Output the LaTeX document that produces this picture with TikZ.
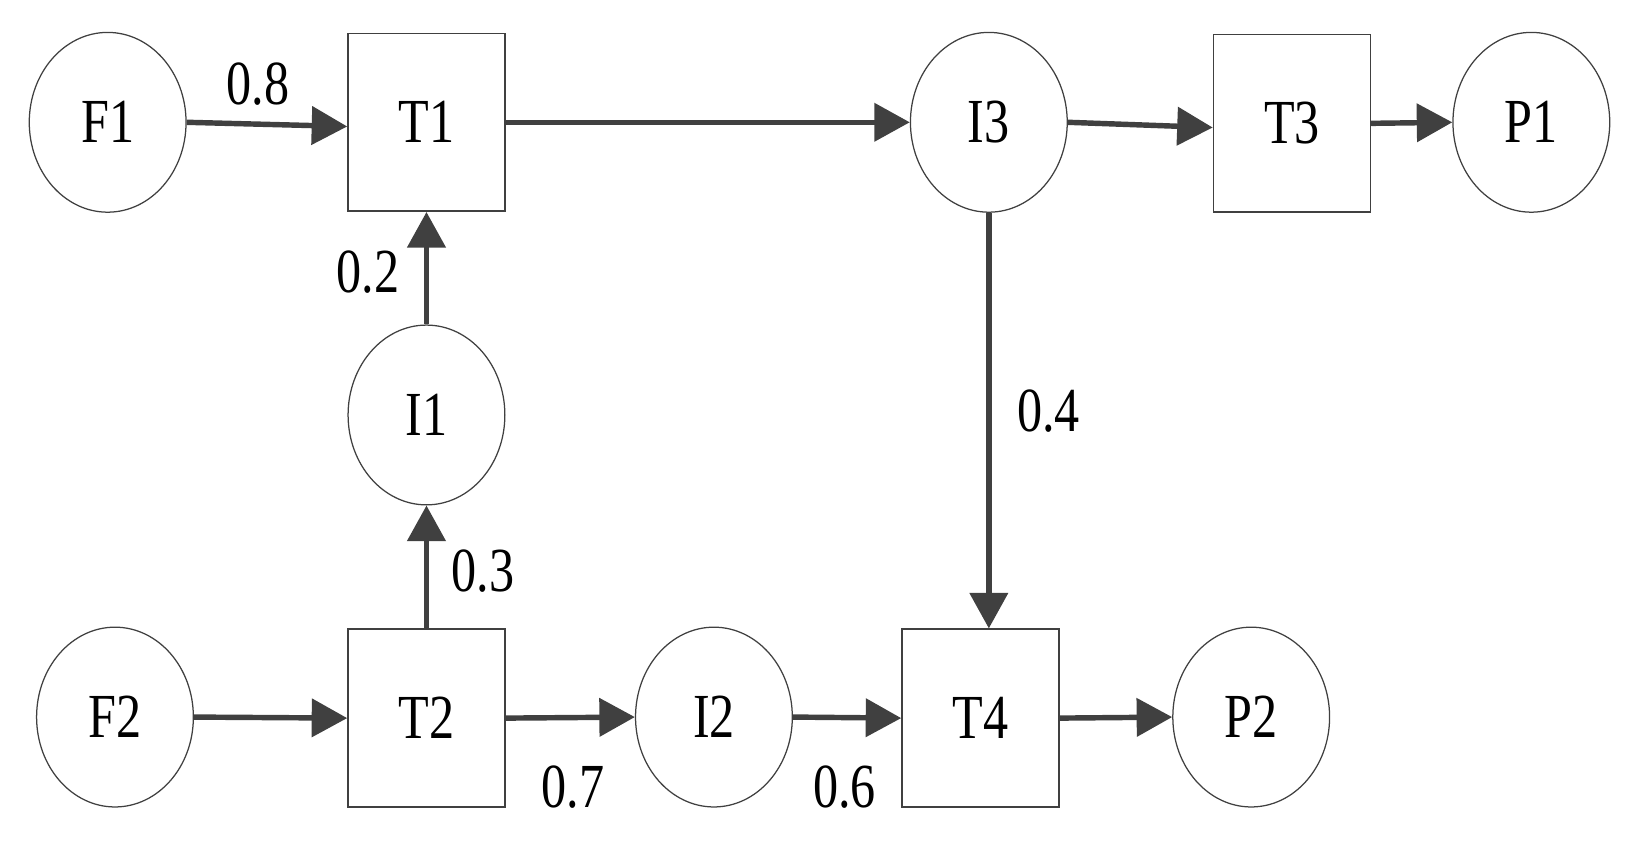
\documentclass[tikz,border=0pt]{standalone}
\usepackage{fontspec}
\setmainfont{Liberation Serif}[FakeStretch=0.8]
\usetikzlibrary{shapes.geometric,arrows.meta}
\definecolor{lc}{HTML}{404040}
\begin{document}
\begin{tikzpicture}[x=0.5pt,y=-0.5pt,
  txt/.style={font=\fontsize{30}{30}\selectfont},
  place/.style={ellipse,draw=lc,line width=0.6pt,minimum width=75pt,minimum height=86pt,inner sep=0pt,txt},
  trans/.style={rectangle,draw=lc,line width=0.8pt,minimum width=75pt,minimum height=85pt,inner sep=0pt,txt},
  arc/.style={draw=lc,line width=2.6pt,-{Triangle[length=17pt,width=18pt]}},
  lbl/.style={inner sep=0pt,txt}
]
\useasboundingbox (0,0) rectangle (1568,807.4);
% nodes
\node[place] (F1) at (103,117) {F1};
\node[trans] (T1) at (408,117) {T1};
\node[place] (I3) at (946,117) {I3};
\node[trans] (T3) at (1236,118) {T3};
\node[place] (P1) at (1465,117) {P1};
\node[place] (I1) at (408,397) {I1};
\node[place] (F2) at (110,686) {F2};
\node[trans] (T2) at (408,687) {T2};
\node[place] (I2) at (683,686) {I2};
\node[trans] (T4) at (938,687) {T4};
\node[place] (P2) at (1197,686) {P2};
% labels
\node[lbl] (l08) at (247,80) {0.8};
\node[lbl] (l02) at (352,260) {0.2};
\node[lbl] (l03) at (462,546) {0.3};
\node[lbl] (l04) at (1003,393) {0.4};
\node[lbl] (l07) at (548,753) {0.7};
\node[lbl] (l06) at (808,753) {0.6};
% arcs
\draw[arc] (F1.east) -- ([yshift=-2pt]T1.west);
\draw[arc] (T1.east) -- (I3.west);
\draw[arc] (I3.east) -- ([yshift=-2pt]T3.west);
\draw[arc] (T3.east) -- (P1.west);
\draw[arc] (I3.south) -- (I3.south |- T4.north);
\draw[arc] (I1.north) -- (T1.south);
\draw[arc] (T2.north) -- (I1.south);
\draw[arc] (F2.east) -- (T2.west);
\draw[arc] (T2.east) -- (I2.west);
\draw[arc] (I2.east) -- (T4.west);
\draw[arc] (T4.east) -- (P2.west);
\end{tikzpicture}
\end{document}
